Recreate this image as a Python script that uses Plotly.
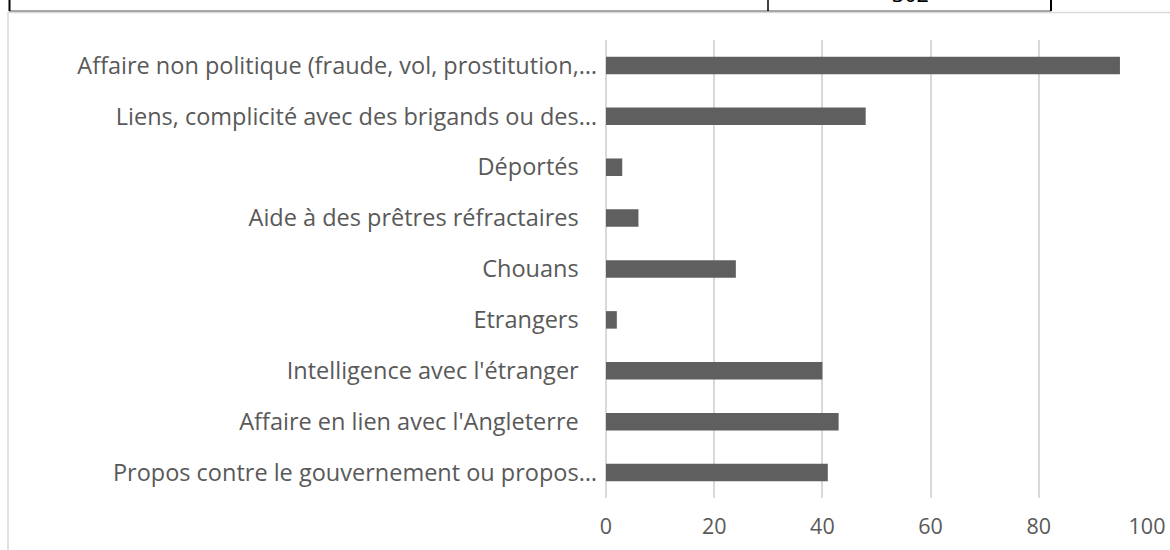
import plotly.graph_objects as go

# ---- data ----
SP = "\u00a0\u00a0\u00a0"
tick_labels = [
    "Affaire non politique (fraude, vol, prostitution,…",
    "Liens, complicité avec des brigands ou des…",
    "Déportés" + SP,
    "Aide à des prêtres réfractaires" + SP,
    "Chouans" + SP,
    "Etrangers" + SP,
    "Intelligence avec l'étranger" + SP,
    "Affaire en lien avec l'Angleterre" + SP,
    "Propos contre le gouvernement ou propos…",
]
values = [95, 48, 3, 6, 24, 2, 40, 43, 41]
x_ticks = [0, 20, 40, 60, 80, 100]
table_value = "302"

W, H = 1170, 550
ML, MR, MT, MB = 606, 23, 40, 52
PW, PH = W - ML - MR, H - MT - MB


def px(x):
    return (x - ML) / PW


def py(y):
    return (H - MB - y) / PH


FONT = "Open Sans"
GRAY = "#595959"
FS_X = 21.5
FS_Y = 23.5

fig = go.Figure(
    go.Bar(
        x=values,
        y=tick_labels,
        orientation="h",
        marker=dict(color="#5f5f5f", line=dict(width=0)),
        hoverinfo="x+y",
    )
)

shapes = [
    # chart outer border (light gray)
    dict(type="line", xref="paper", yref="paper", x0=px(8), x1=px(1175), y0=py(12.5), y1=py(12.5),
         line=dict(color="#d9d9d9", width=1.5)),
    dict(type="line", xref="paper", yref="paper", x0=px(8), x1=px(8), y0=py(12), y1=py(560),
         line=dict(color="#d9d9d9", width=1.5)),
    # table fragment above the chart
    dict(type="line", xref="paper", yref="paper", x0=px(9), x1=px(1051), y0=py(11), y1=py(11),
         line=dict(color="#555555", width=1.2)),
    dict(type="line", xref="paper", yref="paper", x0=px(9.5), x1=px(9.5), y0=py(-5), y1=py(11),
         line=dict(color="#000000", width=2)),
    dict(type="line", xref="paper", yref="paper", x0=px(768), x1=px(768), y0=py(-5), y1=py(11),
         line=dict(color="#000000", width=1.5)),
    dict(type="line", xref="paper", yref="paper", x0=px(1051), x1=px(1051), y0=py(-5), y1=py(11),
         line=dict(color="#000000", width=2)),
]

fig.update_layout(
    width=W,
    height=H,
    margin=dict(l=ML, r=MR, t=MT, b=MB, pad=0, autoexpand=False),
    paper_bgcolor="white",
    plot_bgcolor="white",
    showlegend=False,
    bargap=0.656,
    font=dict(family=FONT, color=GRAY, size=FS_X),
    shapes=shapes,
    annotations=[
        dict(text=table_value, xref="paper", yref="paper", x=px(910), y=py(-6.8),
             xanchor="center", yanchor="middle", showarrow=False,
             font=dict(family=FONT, size=FS_X, color="#000000")),
    ],
    xaxis=dict(
        range=[0, 100],
        tickvals=x_ticks,
        ticktext=[str(v) for v in x_ticks],
        showgrid=True,
        gridcolor="#d9d9d9",
        gridwidth=1.5,
        zeroline=True,
        zerolinecolor="#d9d9d9",
        zerolinewidth=1.5,
        showline=False,
        ticks="",
        ticklabelstandoff=13,
        automargin=False,
        tickfont=dict(family=FONT, size=FS_X, color=GRAY),
    ),
    yaxis=dict(
        categoryorder="array",
        categoryarray=tick_labels,
        autorange="reversed",
        showgrid=False,
        zeroline=False,
        showline=False,
        ticks="",
        ticklabelstandoff=8,
        automargin=False,
        tickfont=dict(family=FONT, size=FS_Y, color=GRAY),
    ),
)

fig.write_html(
    "out.html",
    config={"displayModeBar": False},
    post_script="document.body.style.margin='0px';document.body.style.overflow='hidden';",
)
